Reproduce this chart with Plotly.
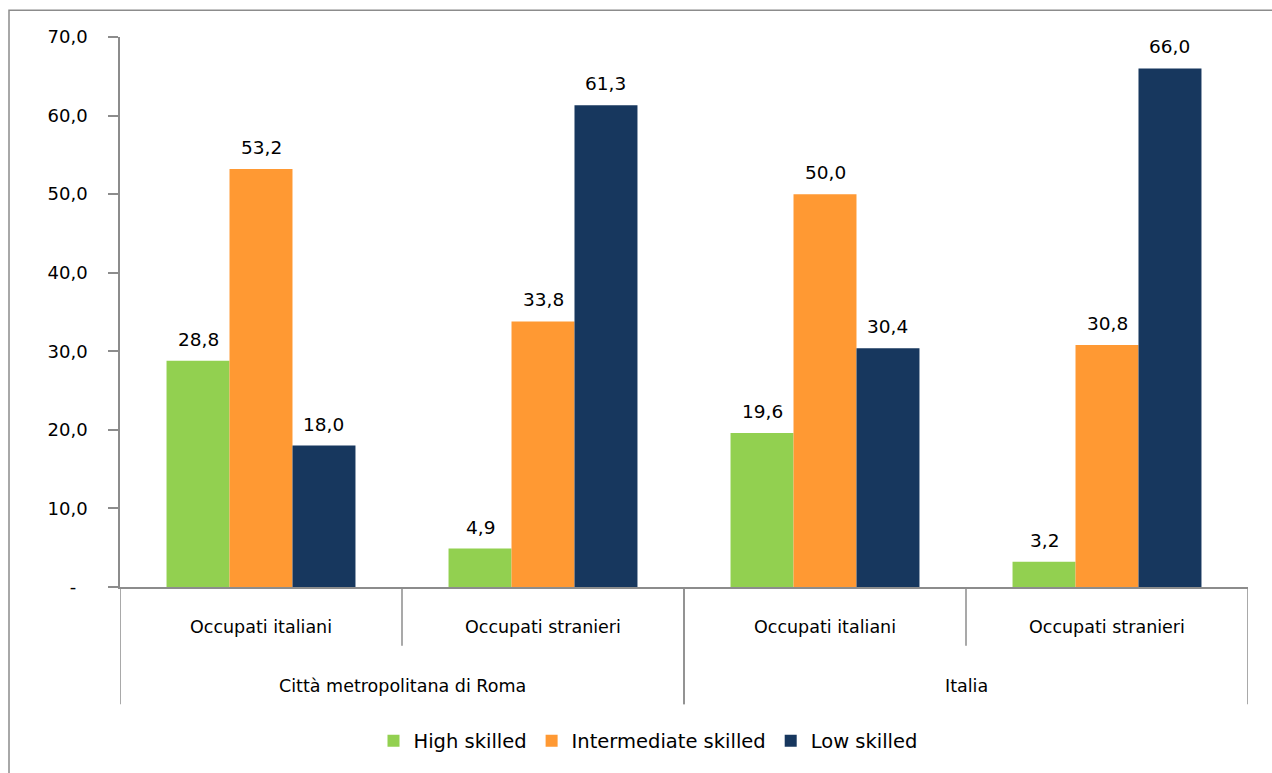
import plotly.graph_objects as go

outer = ["Città metropolitana di Roma", "Città metropolitana di Roma", "Italia", "Italia"]
inner = ["Occupati italiani", "Occupati stranieri", "Occupati italiani", "Occupati stranieri"]

series_names = ["High skilled", "Intermediate skilled", "Low skilled"]
high = [28.8, 4.9, 19.6, 3.2]
intermediate = [53.2, 33.8, 50.0, 30.8]
low = [18.0, 61.3, 30.4, 66.0]
colors = ["#92D050", "#FF9933", "#17375E"]

ytickvals = [0, 10, 20, 30, 40, 50, 60, 70]
yticktext = ["-\u00a0\u00a0", "10,0", "20,0", "30,0", "40,0", "50,0", "60,0", "70,0"]

W, H = 1272, 773
L, R, T, B = 120, 24, 37, 183
pw, ph = W - L - R, H - T - B
BARGAP = 0.33
GRAY = "#8c8c8c"

xpos = list(range(len(inner)))
fig = go.Figure()
series = [high, intermediate, low]
nser = len(series)
bw = (1 - BARGAP) / nser
for k, (name, vals, col) in enumerate(zip(series_names, series, colors)):
    fig.add_trace(go.Bar(
        x=xpos, y=vals, name=name,
        marker=dict(color=col, line=dict(width=0)),
        hoverinfo="y",
    ))
    for i, v in enumerate(vals):
        fig.add_annotation(
            x=i + (k - (nser - 1) / 2) * bw, y=v, xref="x", yref="y",
            text=f"{v:.1f}".replace(".", ","), showarrow=False,
            yanchor="bottom", yshift=9,
            font=dict(family="DejaVu Sans", size=18.5, color="black"),
        )

def ypix_to_paper(ypix):
    return (H - B - ypix) / ph

# inner category labels
for i, lab in enumerate(inner):
    fig.add_annotation(x=i, y=ypix_to_paper(630), xref="x", yref="paper", text=lab,
                       showarrow=False, yanchor="middle",
                       font=dict(family="DejaVu Sans", size=17.5, color="black"))
# outer category labels and dividers
groups = []
for i, g in enumerate(outer):
    if not groups or groups[-1][0] != g:
        groups.append([g, i, i])
    else:
        groups[-1][2] = i
for g, i0, i1 in groups:
    fig.add_annotation(x=(i0 + i1) / 2, y=ypix_to_paper(690), xref="x", yref="paper", text=g,
                       showarrow=False, yanchor="middle",
                       font=dict(family="DejaVu Sans", size=17.5, color="black"))
    for xb in (i0 - 0.5, i1 + 0.5):
        fig.add_shape(type="line", xref="x", yref="paper", x0=xb, x1=xb,
                      y0=0, y1=ypix_to_paper(708), line=dict(color=GRAY, width=1.5))
    for i in range(i0, i1):
        fig.add_shape(type="line", xref="x", yref="paper", x0=i + 0.5, x1=i + 0.5,
                      y0=0, y1=ypix_to_paper(649), line=dict(color=GRAY, width=1.5))

fig.update_layout(
    width=W, height=H,
    margin=dict(l=L, r=R, t=T, b=B),
    paper_bgcolor="white", plot_bgcolor="white",
    separators=",.",
    barmode="group", bargap=BARGAP, bargroupgap=0,
    font=dict(family="DejaVu Sans", size=17, color="black"),
    showlegend=True,
    legend=dict(orientation="h", x=(648 - L) / pw, xanchor="center",
                y=ypix_to_paper(745), yanchor="middle",
                font=dict(family="DejaVu Sans", size=19.5, color="black"),
                itemwidth=30, tracegroupgap=0),
    xaxis=dict(range=[-0.5, len(inner) - 0.5], showticklabels=False, ticks="",
               showgrid=False, zeroline=False,
               showline=True, linecolor=GRAY, linewidth=1.5),
    yaxis=dict(range=[0, 70], tickvals=ytickvals, ticktext=yticktext,
               showgrid=False, zeroline=False, showline=True, linecolor=GRAY, linewidth=1.5,
               ticks="outside", ticklen=10, tickcolor=GRAY, tickwidth=1.5,
               ticklabelstandoff=17,
               tickfont=dict(family="DejaVu Sans", size=18, color="black")),
)

# outer chart frame
fig.add_shape(type="rect", xref="paper", yref="paper",
              x0=(9 - L) / pw, x1=(W + 5 - L) / pw,
              y0=ypix_to_paper(H + 5), y1=ypix_to_paper(10),
              line=dict(color=GRAY, width=1.5), fillcolor="rgba(0,0,0,0)", layer="below")

fig.write_html("out.html")
